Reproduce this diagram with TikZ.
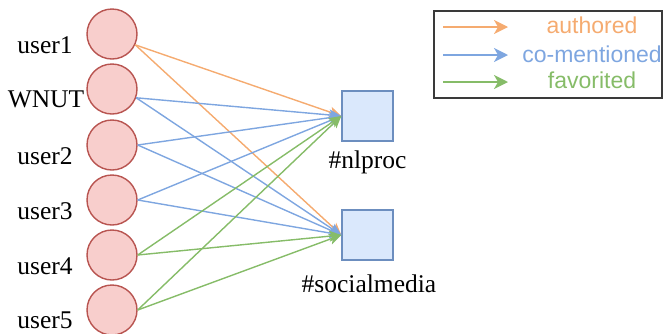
\documentclass[tikz,border=0pt]{standalone}
\usepackage{fontspec}
\setmainfont{Liberation Serif}
\newfontfamily\legendfont{Liberation Sans}
\usetikzlibrary{arrows.meta}
\definecolor{userfill}{HTML}{F8CECC}
\definecolor{userline}{HTML}{B85450}
\definecolor{tagfill}{HTML}{DAE8FC}
\definecolor{tagline}{HTML}{6C8EBF}
\definecolor{authc}{HTML}{F5AB70}
\definecolor{mentc}{HTML}{7EA6E0}
\definecolor{favc}{HTML}{86BC68}
\definecolor{framec}{HTML}{3A3A3A}
\begin{document}
\begin{tikzpicture}[x=1pt,y=-1pt,
  usernode/.style={circle,draw=userline,fill=userfill,line width=1.4pt,minimum size=50pt,inner sep=0pt},
  tagnode/.style={rectangle,draw=tagline,fill=tagfill,line width=1.4pt,minimum width=51pt,minimum height=50pt,inner sep=0pt},
  seriflabel/.style={anchor=base,inner sep=0pt,font=\fontsize{25.5}{30}\selectfont},
  legendtext/.style={anchor=base,inner sep=0pt,font=\legendfont\fontsize{23}{27}\selectfont},
  link/.style={line width=1.4pt,-{Stealth[length=12pt,width=11pt,inset=3pt]}},
  legendarrow/.style={line width=1.6pt,-{Stealth[length=14pt,width=14pt,inset=4pt]}}
]
\useasboundingbox (0,0) rectangle (663,333);

% user nodes
\node[usernode] (u1) at (112,34) {};
\node[usernode] (wn) at (112,89) {};
\node[usernode] (u2) at (112,145) {};
\node[usernode] (u3) at (112,200) {};
\node[usernode] (u4) at (112,255) {};
\node[usernode] (u5) at (112,310) {};

\node[seriflabel] (lu1) at (45,53) {user1};
\node[seriflabel] (lwn) at (46,107) {WNUT};
\node[seriflabel] (lu2) at (45,164) {user2};
\node[seriflabel] (lu3) at (45,219) {user3};
\node[seriflabel] (lu4) at (45,274) {user4};
\node[seriflabel] (lu5) at (45,328) {user5};

% hashtag nodes
\node[tagnode] (nl) at (367.5,116) {};
\node[tagnode] (sm) at (367.5,235) {};
\node[seriflabel] (lnl) at (367.5,168) {\#nlproc};
\node[seriflabel] (lsm) at (369,292) {\#socialmedia};

% edges
\draw[link,authc] (u1.-25) -- (nl.west);
\draw[link,authc] (u1.-25) -- (sm.west);
\draw[link,mentc] (wn.-20) -- (nl.west);
\draw[link,mentc] (wn.-20) -- (sm.west);
\draw[link,mentc] (u2.east) -- (nl.west);
\draw[link,mentc] (u2.east) -- (sm.west);
\draw[link,mentc] (u3.east) -- (nl.west);
\draw[link,mentc] (u3.east) -- (sm.west);
\draw[link,favc] (u4.east) -- (nl.west);
\draw[link,favc] (u4.east) -- (sm.west);
\draw[link,favc] (u5.east) -- (nl.west);
\draw[link,favc] (u5.east) -- (sm.west);

% legend
\node[draw=framec,line width=1.5pt,minimum width=228pt,minimum height=87pt,inner sep=0pt,anchor=north west] (legend) at (433,10) {};
\coordinate (as) at (443,27);
\coordinate (ae) at (508,27);
\coordinate (ms) at (443,55);
\coordinate (me) at (508,55);
\coordinate (fs) at (443,82);
\coordinate (fe) at (508,82);
\draw[legendarrow,authc] (as) -- (ae);
\draw[legendarrow,mentc] (ms) -- (me);
\draw[legendarrow,favc] (fs) -- (fe);
\node[legendtext,text=authc] (ta) at (592,33) {authored};
\node[legendtext,text=mentc] (tm) at (592,62) {co-mentioned};
\node[legendtext,text=favc] (tf) at (592,88) {favorited};
\end{tikzpicture}
\end{document}
